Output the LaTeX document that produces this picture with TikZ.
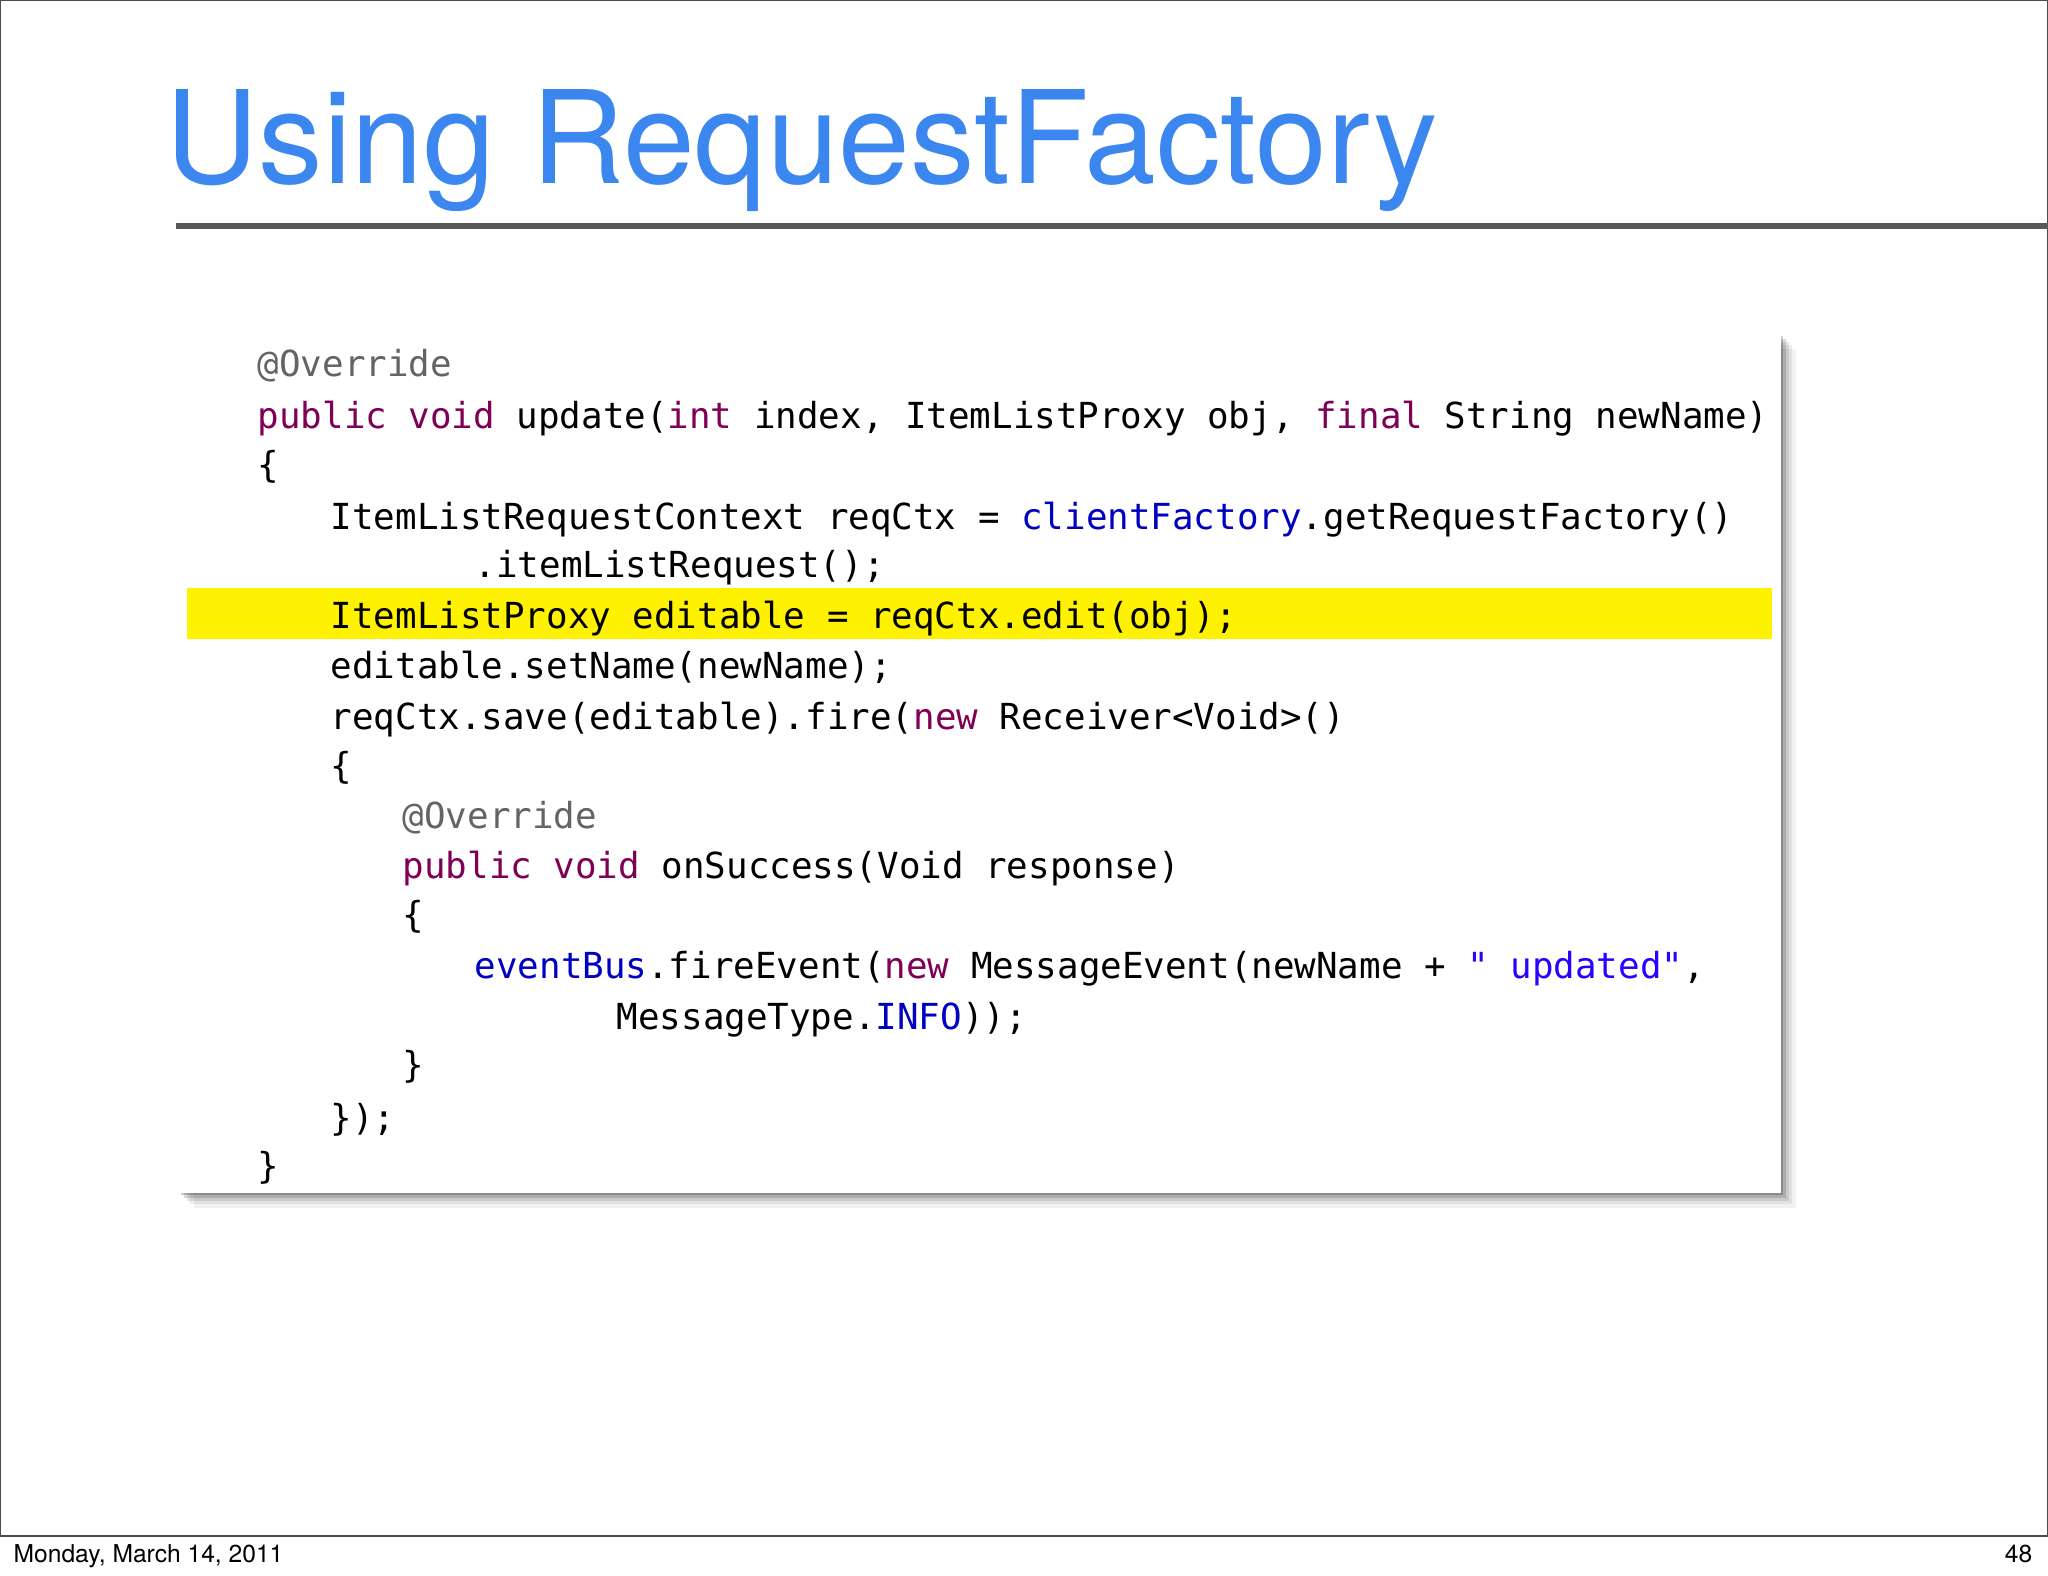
\documentclass[tikz,border=0pt]{standalone}
\usepackage{fontspec}
\setmainfont{TeX Gyre Heros}
\newfontfamily\codefont{DejaVu Sans Mono}
\definecolor{ttl}{HTML}{3C86F0}
\definecolor{kw}{HTML}{7F0055}
\definecolor{fld}{HTML}{0000C0}
\definecolor{ann}{HTML}{646464}
\definecolor{str}{HTML}{2A00FF}
\newcommand{\K}[1]{\textcolor{kw}{#1}}
\newcommand{\F}[1]{\textcolor{fld}{#1}}
\newcommand{\A}[1]{\textcolor{ann}{#1}}
\newcommand{\Sx}[1]{\textcolor{str}{#1}}
\tikzset{code/.style={anchor=west,inner sep=0pt,text height=0.27cm,text depth=0.07cm,yshift=-0.03cm,font=\codefont\fontsize{10.2pt}{12pt}\selectfont}}
\begin{document}
\begin{tikzpicture}[x=1cm,y=1cm]
\useasboundingbox (0,0) rectangle (20.48,-15.76);
\draw[line width=0.6pt,black!70] (0,0) rectangle (20.48,-15.36);
\node[anchor=base west,inner sep=0pt,text=ttl,font=\fontsize{36.7pt}{40pt}\selectfont] (title) at (1.65,-1.83) {Using RequestFactory};
\draw[line width=1.5pt,black!65] (1.76,-2.26) -- (20.48,-2.26);
% shadow
\foreach \o/\a in {0.16/0.05,0.12/0.07,0.09/0.10,0.06/0.14,0.03/0.2}{
  \fill[black,opacity=\a] (1.78+\o,-3.33-\o) rectangle (17.80+\o,-11.92-\o);}
\node[draw=none,fill=white,minimum width=16.02cm,minimum height=8.59cm,anchor=north west,inner sep=0pt] (box) at (1.78,-3.33) {};
\fill[yellow] (1.87,-5.88) rectangle (17.72,-6.39);
\node[code] (l1) at (2.57,-3.63) {\A{@Override}};
\node[code] (l2) at (2.57,-4.15) {\K{public void} update(\K{int} index, ItemListProxy obj, \K{final} String newName)};
\node[code] (l3) at (2.57,-4.64) {\{};
\node[code] (l4) at (3.30,-5.16) {ItemListRequestContext reqCtx = \F{clientFactory}.getRequestFactory()};
\node[code] (l5) at (4.74,-5.64) {.itemListRequest();};
\node[code] (l6) at (3.30,-6.15) {ItemListProxy editable = reqCtx.edit(obj);};
\node[code] (l7) at (3.30,-6.65) {editable.setName(newName);};
\node[code] (l8) at (3.30,-7.16) {reqCtx.save(editable).fire(\K{new} Receiver<Void>()};
\node[code] (l9) at (3.30,-7.65) {\{};
\node[code] (l10) at (4.02,-8.15) {\A{@Override}};
\node[code] (l11) at (4.02,-8.65) {\K{public void} onSuccess(Void response)};
\node[code] (l12) at (4.02,-9.14) {\{};
\node[code] (l13) at (4.74,-9.65) {\F{eventBus}.fireEvent(\K{new} MessageEvent(newName + \Sx{" updated"},};
\node[code] (l14) at (6.16,-10.16) {MessageType.\F{INFO}));};
\node[code] (l15) at (4.02,-10.64) {\}};
\node[code] (l16) at (3.30,-11.17) {\});};
\node[code] (l17) at (2.57,-11.65) {\}};
\node[anchor=base west,inner sep=0pt,font=\fontsize{7pt}{8pt}\selectfont] (date) at (0.13,-15.62) {Monday, March 14, 2011};
\node[anchor=base east,inner sep=0pt,font=\fontsize{7pt}{8pt}\selectfont] (pg) at (20.33,-15.62) {48};
\end{tikzpicture}
\end{document}
